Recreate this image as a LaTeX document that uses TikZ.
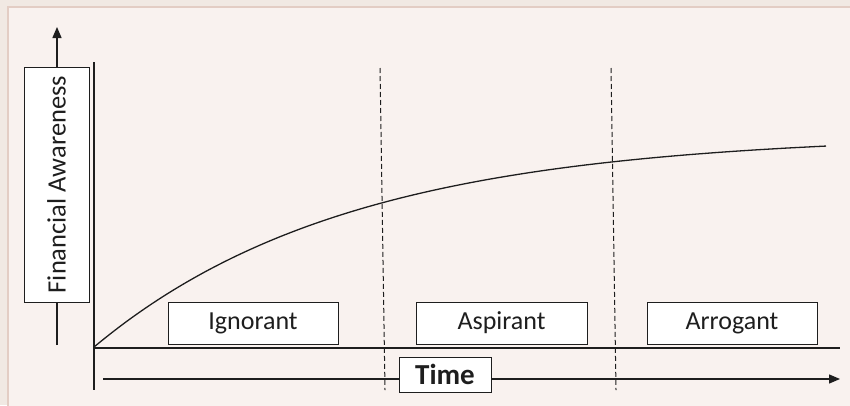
\documentclass[tikz,border=0pt]{standalone}
\usepackage{fontspec}
\setmainfont{Carlito}
\usetikzlibrary{arrows.meta}
\definecolor{outerbg}{HTML}{F1E9E3}
\definecolor{panelbg}{HTML}{F9F2EF}
\definecolor{panelrule}{HTML}{E3CDC4}
\definecolor{ink}{HTML}{1E1E1E}
\tikzset{
  stagebox/.style={draw=ink, line width=1pt, fill=white, minimum width=170pt, minimum height=42pt, inner sep=0pt, font=\fontsize{26}{28}\selectfont, text=ink},
  axisline/.style={draw=ink, line width=1.3pt},
  axisarrow/.style={axisline, -{Triangle[length=11pt,width=9pt]}},
  phasesep/.style={draw=ink, line width=1pt, dash pattern=on 5pt off 3pt},
}
\begin{document}
\begin{tikzpicture}[x=1pt, y=-1pt]
  \useasboundingbox (0,0) rectangle (850,405);
  % canvas and inner panel
  \fill[outerbg] (0,0) rectangle (850,405);
  \begin{scope}
    \clip (0,0) rectangle (850,405);
    \filldraw[fill=panelbg, draw=panelrule, line width=1.2pt] (8,7) rectangle (860,415);
  \end{scope}

  % vertical axis arrow with its label box
  \coordinate (ybot) at (57,345);
  \coordinate (ytop) at (57,27);
  \draw[axisarrow] (ybot) -- (ytop);
  \node[draw=ink, line width=1pt, fill=white, minimum width=235pt, minimum height=65pt, inner sep=0pt, rotate=90, font=\fontsize{26.5}{28}\selectfont, text=ink] (ylabel) at (56.5,184.5) {Financial Awareness};

  % time arrow with its label box
  \coordinate (tstart) at (103,379);
  \coordinate (tend) at (840,379);
  \draw[axisarrow] (tstart) -- (tend);
  \node[draw=ink, line width=1pt, fill=white, minimum width=92pt, minimum height=35pt, inner sep=0pt, font=\fontsize{29}{30}\selectfont\bfseries, text=ink] (tlabel) at (445,374.5) {Time};

  % chart frame
  \coordinate (origin) at (94,348);
  \coordinate (vtop) at (94,62);
  \coordinate (vbot) at (94,390);
  \coordinate (hend) at (840,348);
  \draw[axisline] (vtop) -- (vbot);
  \draw[axisline] (origin) -- (hend);

  % phase separators
  \coordinate (s1top) at (380,68);
  \coordinate (s1bot) at (385,390);
  \coordinate (s2top) at (611,68);
  \coordinate (s2bot) at (616,390);
  \draw[phasesep] (s1top) -- (s1bot);
  \draw[phasesep] (s2top) -- (s2bot);

  % stage labels
  \node[stagebox] (ignorant) at (253,323) {Ignorant};
  \node[stagebox, minimum width=171pt] (aspirant) at (501.5,323) {Aspirant};
  \node[stagebox] (arrogant) at (732,323) {Arrogant};

  % awareness growth curve (saturating exponential)
  \draw[ink, line width=1.3pt] plot[domain=94:826, samples=120, smooth]
    (\x, {347-213*(1-exp(-(\x-94)/255))});
\end{tikzpicture}
\end{document}
